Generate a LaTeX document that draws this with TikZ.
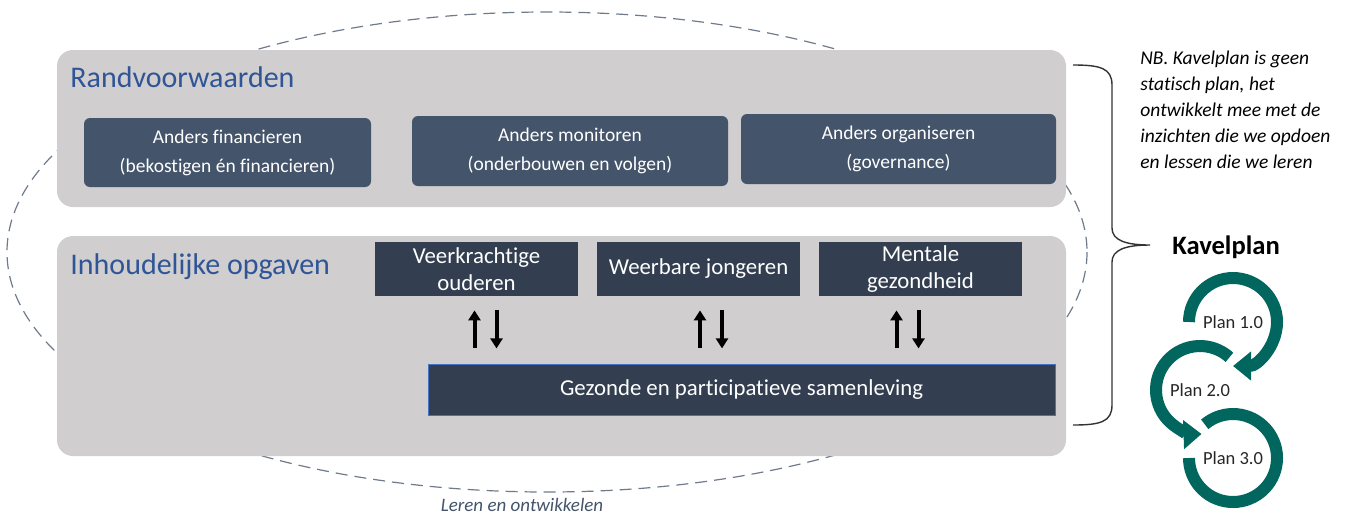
\documentclass[tikz,border=0pt]{standalone}
\usepackage{fontspec}
\setmainfont{Carlito}[Ligatures=NoCommon]
\usetikzlibrary{arrows.meta,calc,positioning}
\definecolor{panelgrey}{HTML}{D0CECE}
\definecolor{slate}{HTML}{44546A}
\definecolor{darkslate}{HTML}{333F50}
\definecolor{headblue}{HTML}{2F5597}
\definecolor{cycleteal}{HTML}{00665E}
\definecolor{dashgrey}{HTML}{6F7B8A}
\definecolor{frameblue}{HTML}{4472C4}

\tikzset{
  panel/.style={fill=panelgrey, rounded corners=8pt},
  condbox/.style={fill=slate, rounded corners=3pt, text=white, align=center, inner sep=0pt,
    font=\fontsize{9.75}{14.5}\selectfont},
  taskbox/.style={fill=darkslate, text=white, align=center, inner sep=0pt,
    font=\fontsize{11.4}{13.5}\selectfont, minimum width=101.5pt, minimum height=27pt},
  heading/.style={text=headblue, anchor=west, inner sep=0pt, font=\fontsize{15}{18}\selectfont},
  updown/.style={line width=2pt, -{Triangle[width=6pt,length=5pt]}},
  cyclearc/.style={cycleteal, line width=6pt},
  cyclehead/.style={cyclearc, -{Triangle[width=14pt,length=9pt]}},
  planlabel/.style={inner sep=0pt, text=black!85, font=\fontsize{9.25}{11}\selectfont},
}

\begin{document}
\begin{tikzpicture}[x=0.5pt,y=-0.5pt]
  \useasboundingbox (0,0) rectangle (1364,516);

  % leren en ontwikkelen
  \draw[dashgrey, line width=0.6pt, dash pattern=on 6pt off 3.5pt] (547,252) ellipse [x radius=540, y radius=240];
  \node[text=slate, font=\fontsize{9.5}{11}\selectfont\itshape] (leren) at (522,505) {Leren en ontwikkelen};

  % panelen
  \fill[panel] (57,50) rectangle (1066,207);
  \fill[panel] (57,236) rectangle (1066,456);

  \node[heading] (rand) at (70,77) {Randvoorwaarden};
  \node[heading] (inh) at (70,267) {Inhoudelijke opgaven};

  \node[condbox, minimum width=143.5pt, minimum height=34.5pt] (fin) at (227.5,152.5) {Anders financieren\\(bekostigen én financieren)};
  \node[condbox, minimum width=158pt, minimum height=35pt] (mon) at (570,151) {Anders monitoren\\(onderbouwen en volgen)};
  \node[condbox, minimum width=157.5pt, minimum height=35pt] (org) at (898.5,149) {Anders organiseren\\(governance)};

  \node[taskbox] (vo) at (476.5,269) {Veerkrachtige\\ouderen};
  \node[taskbox] (wj) at (698.5,269) {Weerbare jongeren};
  \node[taskbox] (mg) at (920.5,269) {Mentale\\gezondheid};
  \node[taskbox, minimum width=313.5pt, minimum height=25.5pt, draw=frameblue, line width=0.5pt] (gps) at (741.5,389.5) {Gezonde en participatieve samenleving};

  % wisselwerking
  \draw[updown] ($(vo.south)+(-2,52)$) -- ($(vo.south)+(-2,14)$);
  \draw[updown] ($(vo.south)+(20,14)$) -- ($(vo.south)+(20,52)$);
  \draw[updown] ($(wj.south)+(1.5,52)$) -- ($(wj.south)+(1.5,14)$);
  \draw[updown] ($(wj.south)+(23.5,14)$) -- ($(wj.south)+(23.5,52)$);
  \draw[updown] ($(mg.south)+(-24,52)$) -- ($(mg.south)+(-24,14)$);
  \draw[updown] ($(mg.south)+(-2,14)$) -- ($(mg.south)+(-2,52)$);

  % accolade
  \draw[line width=0.7pt, black!80] (1073,65) .. controls (1100,65) and (1112,68) .. (1112,85) -- (1112,228)
    .. controls (1112,240) and (1125,245) .. (1150,245) .. controls (1125,245) and (1112,250) .. (1112,262)
    -- (1112,405) .. controls (1112,422) and (1100,425) .. (1073,425);

  \node[anchor=north west, inner sep=0pt, align=left, font=\fontsize{9.75}{12.9}\selectfont\itshape] (nb) at (1140,51)
    {NB. Kavelplan is geen\\statisch plan, het\\ontwikkelt mee met de\\inzichten die we opdoen\\en lessen die we leren};

  % kavelplan cyclus
  \node[font=\fontsize{13.3}{16}\selectfont\bfseries] (kav) at (1226,247) {Kavelplan};
  \coordinate (c1) at (1233,322);
  \coordinate (c2) at (1200,390);
  \coordinate (c3) at (1233,458);
  \draw[cyclearc] ($(c3)+(230:44)$) arc[start angle=230, end angle=540, radius=44];
  \draw[cyclehead] ($(c2)+(-48:44)$) arc[start angle=-48, end angle=-272, radius=44];
  \draw[cyclehead] ($(c1)+(180:44)$) arc[start angle=180, end angle=450, radius=44];
  \node[planlabel] (p1) at (c1) {Plan 1.0};
  \node[planlabel] (p2) at (c2) {Plan 2.0};
  \node[planlabel] (p3) at (c3) {Plan 3.0};
\end{tikzpicture}
\end{document}
